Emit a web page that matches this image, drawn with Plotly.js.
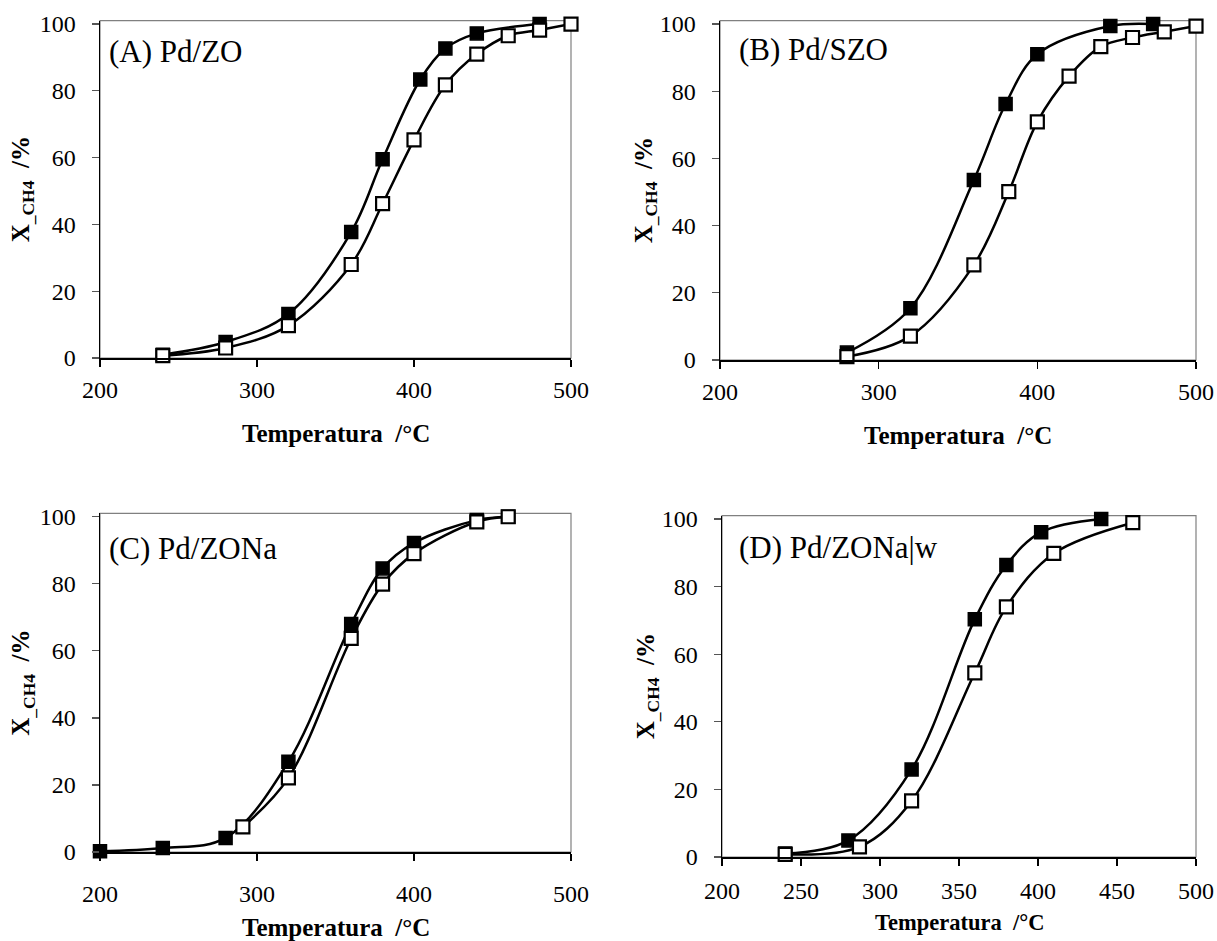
<!DOCTYPE html>
<html>
<head>
<meta charset="utf-8">
<script src="https://cdn.plot.ly/plotly-3.0.1.min.js"></script>
<style>html,body{margin:0;padding:0;background:#fff;}#chart{width:1217px;height:941px;}</style>
</head>
<body>
<div id="chart"></div>
<script>
// ---- Data ----
var panelLabels = ["(A) Pd/ZO", "(B) Pd/SZO", "(C) Pd/ZONa", "(D) Pd/ZONa|w"];

var A_filled_T = [240, 280, 320, 360, 380, 404, 420, 440, 480];
var A_filled_X = [1.0, 4.8, 13.2, 37.7, 59.5, 83.4, 92.7, 97.2, 100];
var A_open_T   = [240, 280, 320, 360, 380, 400, 420, 440, 460, 480, 500];
var A_open_X   = [0.7, 3.0, 9.7, 28.0, 46.2, 65.3, 81.8, 91.0, 96.5, 98.2, 100];

var B_filled_T = [280, 320, 360, 380, 400, 446, 473];
var B_filled_X = [2.2, 15.4, 53.6, 76.2, 91.0, 99.4, 100];
var B_open_T   = [280, 320, 360, 382, 400, 420, 440, 460, 480, 500];
var B_open_X   = [1.0, 7.1, 28.3, 50.1, 70.9, 84.5, 93.3, 96.0, 97.7, 99.4];

var C_filled_T = [200, 240, 280, 320, 360, 380, 400, 440, 460];
var C_filled_X = [0.2, 1.2, 4.2, 26.9, 68.0, 84.6, 92.2, 99.0, 100];
var C_open_T   = [291, 320, 360, 380, 400, 440, 460];
var C_open_X   = [7.5, 22.1, 63.7, 79.9, 89.0, 98.5, 100];

var D_filled_T = [240, 280, 320, 360, 380, 402, 440];
var D_filled_X = [1.0, 4.9, 25.9, 70.3, 86.4, 96.1, 100];
var D_open_T   = [240, 287, 320, 360, 380, 410, 460];
var D_open_X   = [0.8, 3.0, 16.6, 54.5, 74.0, 89.8, 98.9];

var xTitle = "Temperatura  /°C";
var yTitle = "X<sub>_CH4</sub>  /%";

// ---- Layout geometry ----
var W = 1217, H = 941;
function fx(px){ return px / W; }
function fy(px){ return (H - px) / H; }

var panels = [
  {fT:A_filled_T, fX:A_filled_X, oT:A_open_T, oX:A_open_X, x0:100, x1:571, yb:358, yt:20.7, dtick:100, ytx:22, xty:433, xtsize:25, lblx:107, lbly:51, tstand:3},
  {fT:B_filled_T, fX:B_filled_X, oT:B_open_T, oX:B_open_X, x0:720, x1:1196, yb:360, yt:20.7, dtick:100, ytx:645, xty:435, xtsize:25, lblx:737, lbly:49, tstand:3},
  {fT:C_filled_T, fX:C_filled_X, oT:C_open_T, oX:C_open_X, x0:100, x1:571, yb:852, yt:513.4, dtick:100, ytx:23, xty:927, xtsize:25, lblx:107, lbly:548, tstand:13},
  {fT:D_filled_T, fX:D_filled_X, oT:D_open_T, oX:D_open_X, x0:722, x1:1196, yb:857, yt:515.6, dtick:50, ytx:647, xty:922, xtsize:22.5, lblx:737, lbly:547, tstand:5}
];

var serif = "Liberation Serif";
var traces = [], shapes = [], annotations = [];
var layout = {
  width: W, height: H,
  margin: {l:0, r:0, t:0, b:0},
  paper_bgcolor: "#ffffff", plot_bgcolor: "rgba(0,0,0,0)",
  showlegend: false,
  font: {family: serif, color: "#000"}
};

panels.forEach(function(p, i){
  var n = i + 1;
  var xa = "x" + (n === 1 ? "" : n), ya = "y" + (n === 1 ? "" : n);
  var xk = "xaxis" + (n === 1 ? "" : n), yk = "yaxis" + (n === 1 ? "" : n);
  layout[xk] = {
    domain: [fx(p.x0), fx(p.x1)], anchor: ya, range: [200, 500], dtick: p.dtick, tick0: 200,
    showgrid: false, zeroline: false, showline: true, linecolor: "#000", linewidth: 1.5,
    ticks: "outside", ticklen: 7, tickwidth: 1.2, tickcolor: "#000",
    ticklabelstandoff: p.tstand,
    tickfont: {family: serif, size: 24, color: "#000"}, fixedrange: true
  };
  layout[yk] = {
    domain: [fy(p.yb), fy(p.yt)], anchor: xa, range: [0, 101], dtick: 20, tick0: 0,
    showgrid: false, zeroline: false, showline: true, linecolor: "#000", linewidth: 1.5,
    ticks: "outside", ticklen: 7, tickwidth: 1.2, tickcolor: "#555",
    ticklabelstandoff: 11,
    tickfont: {family: serif, size: 24, color: "#000"}, fixedrange: true
  };
  // gray frame (top/right borders)
  shapes.push({type:"rect", xref: xa + " domain", yref: ya + " domain", x0:0, x1:1, y0:0, y1:1,
    line:{color:"#808080", width:1.2}, layer:"below"});
  traces.push({x:p.fT, y:p.fX, xaxis:xa, yaxis:ya, type:"scatter", mode:"lines+markers",
    line:{shape:"spline", smoothing:1, color:"#000", width:2.5},
    marker:{symbol:"square", size:13, color:"#000", line:{color:"#000", width:1.5}}, cliponaxis:false});
  traces.push({x:p.oT, y:p.oX, xaxis:xa, yaxis:ya, type:"scatter", mode:"lines+markers",
    line:{shape:"spline", smoothing:1, color:"#000", width:2.5},
    marker:{symbol:"square", size:13, color:"#fff", line:{color:"#000", width:2.2}}, cliponaxis:false});
  annotations.push({text: panelLabels[i], xref:"paper", yref:"paper", x: fx(p.lblx), y: fy(p.lbly),
    xanchor:"left", yanchor:"middle", showarrow:false, font:{family:serif, size:31, color:"#000"}});
  annotations.push({text: "<b>" + xTitle + "</b>", xref:"paper", yref:"paper", x: fx((p.x0 + p.x1)/2), y: fy(p.xty),
    xanchor:"center", yanchor:"middle", showarrow:false, font:{family:serif, size:p.xtsize, color:"#000"}});
  annotations.push({text: "<b>" + yTitle + "</b>", xref:"paper", yref:"paper", x: fx(p.ytx), y: fy((p.yb + p.yt)/2),
    xanchor:"center", yanchor:"middle", textangle:-90, showarrow:false, font:{family:serif, size:25, color:"#000"}});
});

layout.shapes = shapes;
layout.annotations = annotations;
Plotly.newPlot("chart", traces, layout, {displayModeBar:false, staticPlot:true});
</script>
</body>
</html>
